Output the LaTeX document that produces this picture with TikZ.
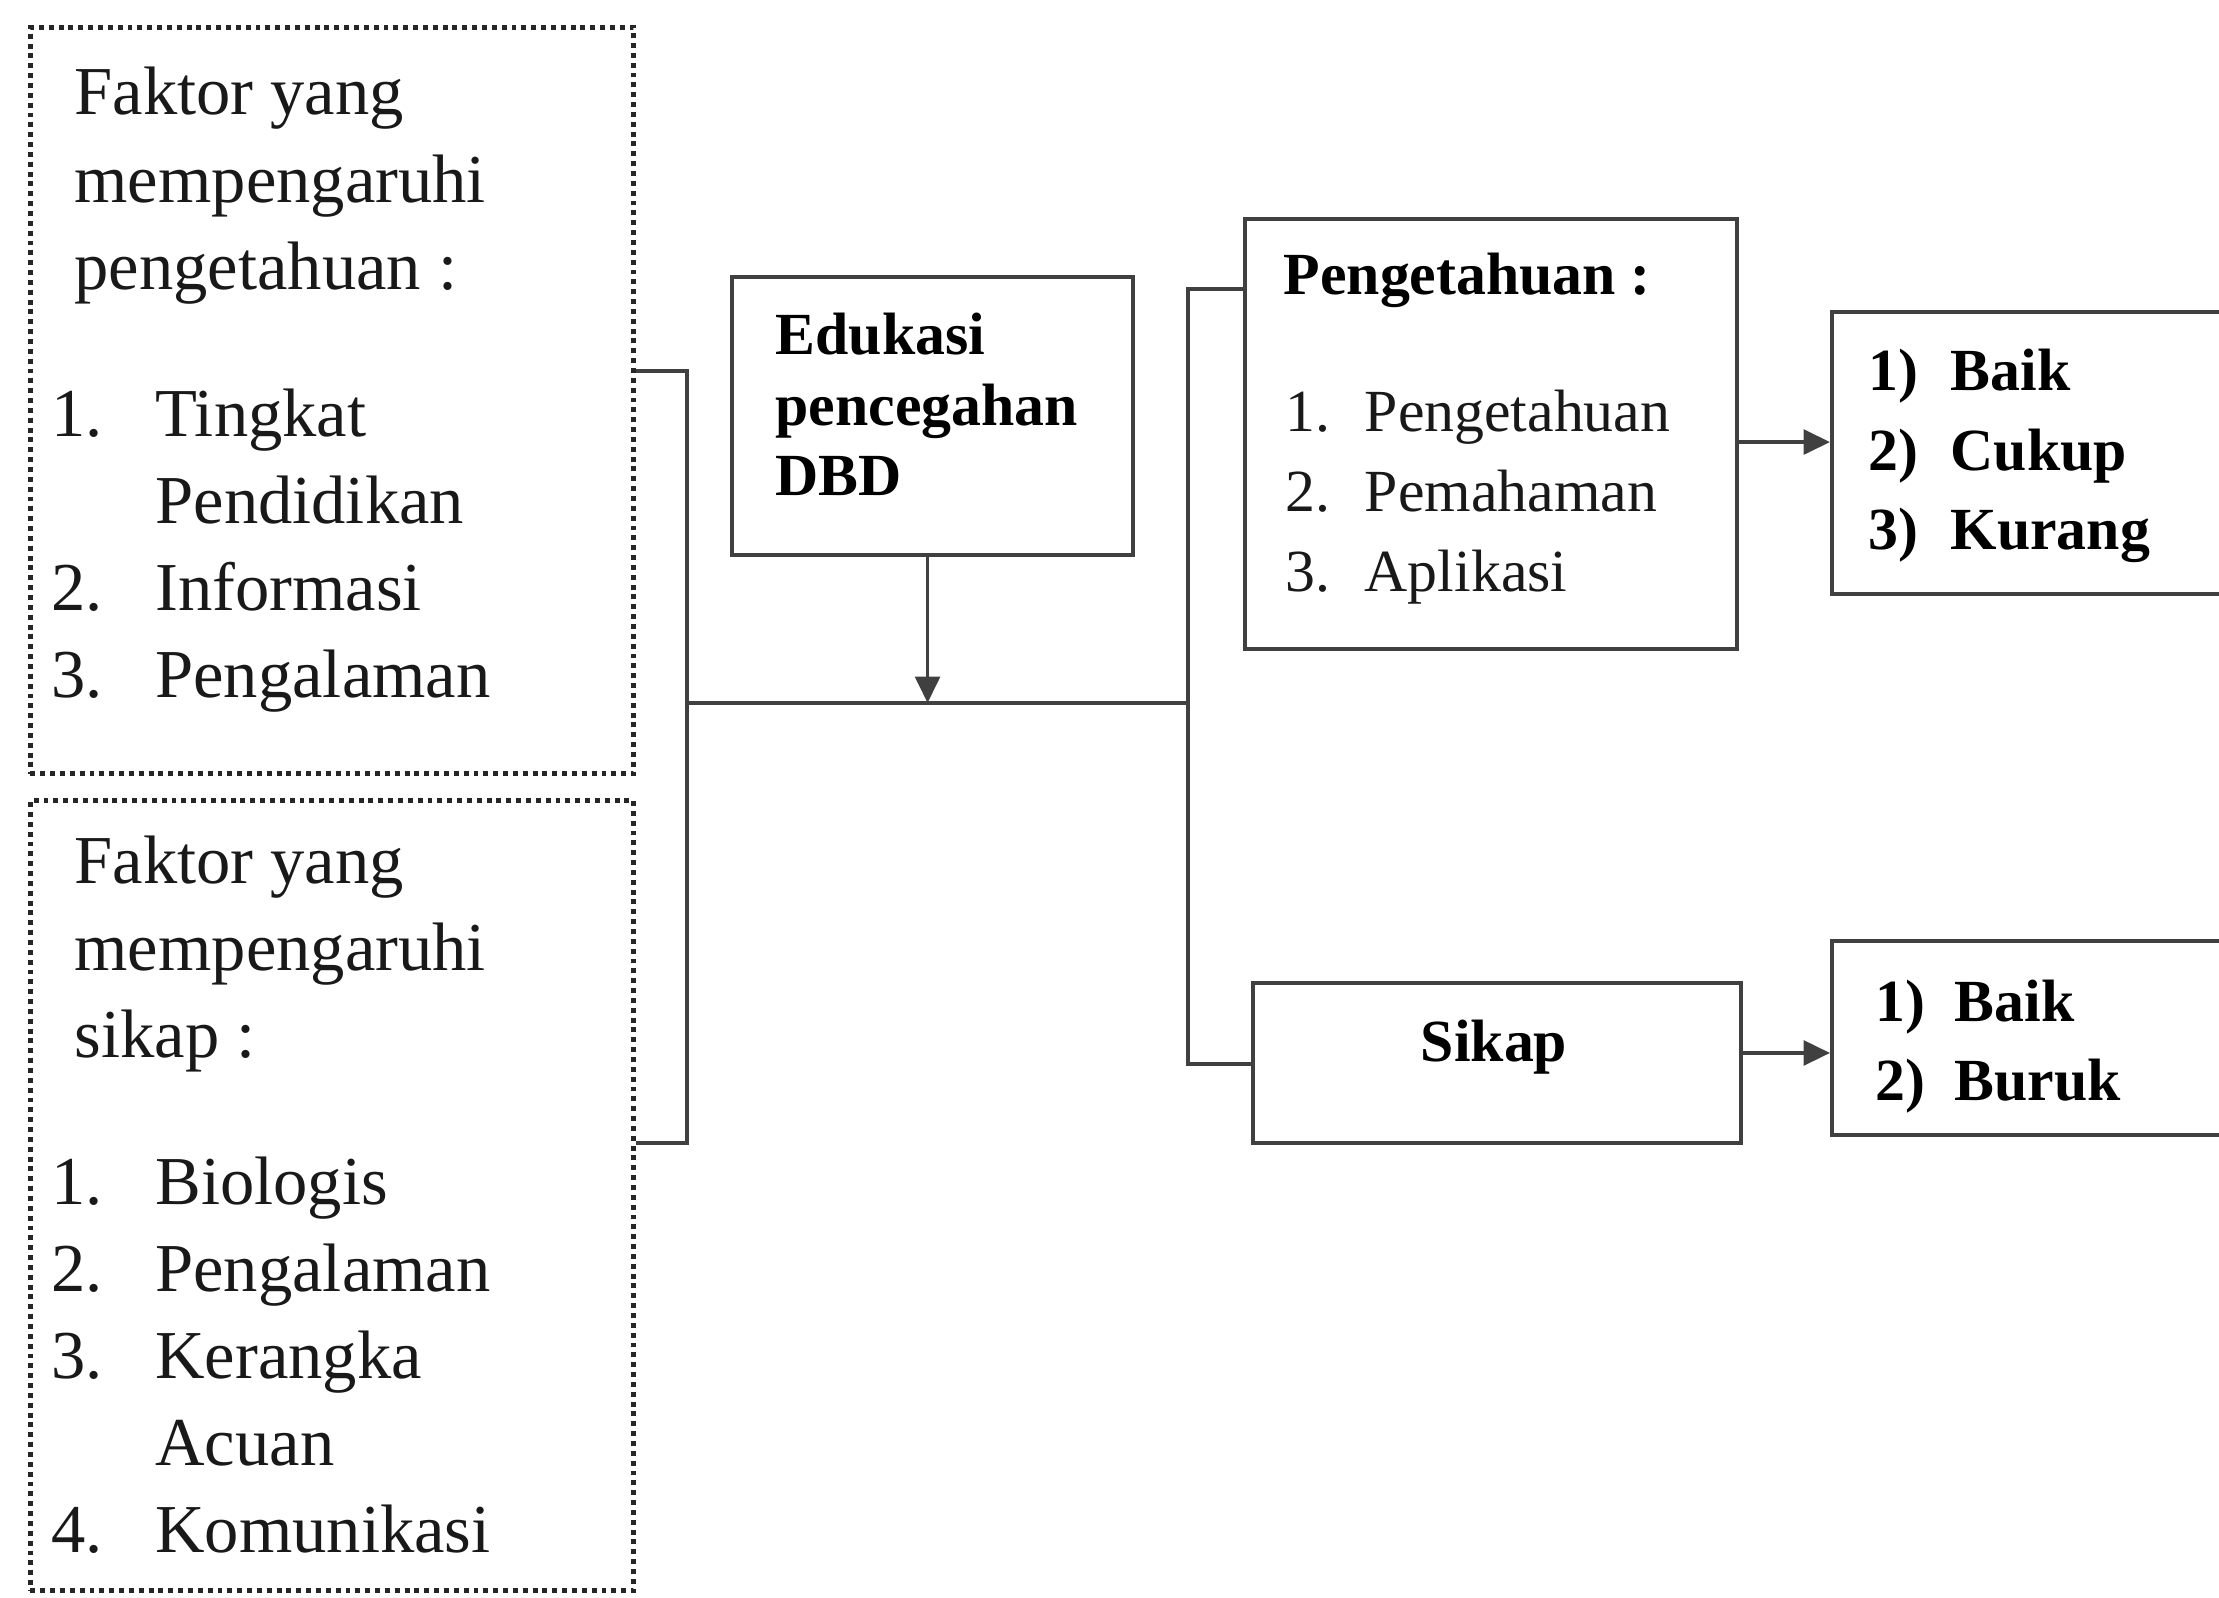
\documentclass[tikz,border=0pt]{standalone}
\usepackage{fontspec}
\setmainfont{Liberation Serif}
\usetikzlibrary{arrows.meta,positioning}

\newcommand{\hdrline}[1]{\multicolumn{2}{@{\hspace{6.5pt}}l@{}}{#1}}

\begin{document}
\begin{tikzpicture}[
		x=0.01cm, y=-0.01cm,
		>={Triangle[length=7.5pt,width=7pt]},
		line/.style   ={draw=black!75,line width=1.1pt},
		dotbox/.style ={rectangle,draw=black!85,line width=1.4pt,dash pattern=on 1.4pt off 1.4pt,anchor=north west,inner sep=0pt},
		box/.style    ={rectangle,draw=black!75,line width=1.1pt,anchor=north west,inner sep=0pt},
		factxt/.style ={anchor=base west,inner sep=0pt,text=black!90,font=\fontsize{19.5}{24.8}\selectfont},
		listtxt/.style={anchor=base west,inner sep=0pt,text=black!90,font=\fontsize{17}{22.7}\selectfont},
		boldtxt/.style={anchor=base west,inner sep=0pt,text=black,font=\fontsize{17}{20}\selectfont\bfseries},
		restxt/.style ={anchor=base west,inner sep=0pt,text=black,font=\fontsize{17}{22.5}\selectfont\bfseries}
		]

		\useasboundingbox (0,0) rectangle (2219,1598);
		\clip (0,0) rectangle (2219,1598);

		% ---- factor boxes (dotted) ----
		\node[dotbox,minimum width=6.03cm,minimum height=7.46cm] (faktorP) at (28,25) {};
		\node[dotbox,minimum width=6.03cm,minimum height=7.90cm] (faktorS) at (28,798) {};

		\node[factxt] (faktorPtxt) at (51,115) {\begin{tabular}[t]{@{}p{29.5pt}@{}l@{}}
			\hdrline{Faktor yang}\\
			\hdrline{mempengaruhi}\\
			\hdrline{pengetahuan :}\\[16.9pt]
			1. & Tingkat\\
			   & Pendidikan\\
			2. & Informasi\\
			3. & Pengalaman
		\end{tabular}};

		\node[factxt] (faktorStxt) at (51,883) {\begin{tabular}[t]{@{}p{29.5pt}@{}l@{}}
			\hdrline{Faktor yang}\\
			\hdrline{mempengaruhi}\\
			\hdrline{sikap :}\\[16.9pt]
			1. & Biologis\\
			2. & Pengalaman\\
			3. & Kerangka\\
			   & Acuan\\
			4. & Komunikasi
		\end{tabular}};

		% ---- education box ----
		\node[box,minimum width=4.01cm,minimum height=2.78cm] (edukasi) at (730,275) {};
		\node[boldtxt] (edukasitxt) at (775,355) {\begin{tabular}[t]{@{}l@{}}
			Edukasi\\pencegahan\\DBD
		\end{tabular}};

		% ---- outcome boxes ----
		\node[box,minimum width=4.92cm,minimum height=4.30cm] (pengetahuan) at (1243,217) {};
		\node[boldtxt] (pengetahuanhdr) at (1283,295) {Pengetahuan :};
		\node[listtxt] (pengetahuanlist) at (1285,432) {\begin{tabular}[t]{@{}p{22.5pt}@{}l@{}}
			1. & Pengetahuan\\
			2. & Pemahaman\\
			3. & Aplikasi
		\end{tabular}};

		\node[box,minimum width=4.88cm,minimum height=1.60cm] (sikap) at (1251,981) {};
		\node[boldtxt,anchor=base] (sikaptxt) at (1494,1061) {Sikap};

		% ---- category boxes (cut at right edge) ----
		\node[box,minimum width=5cm,minimum height=2.82cm] (hasilP) at (1830,310) {};
		\node[restxt] (hasilPtxt) at (1868,391) {\begin{tabular}[t]{@{}p{23.3pt}@{}l@{}}
			1) & Baik\\
			2) & Cukup\\
			3) & Kurang
		\end{tabular}};

		\node[box,minimum width=5cm,minimum height=1.94cm] (hasilS) at (1830,939) {};
		\node[restxt] (hasilStxt) at (1875,1021) {\begin{tabular}[t]{@{}p{22.5pt}@{}l@{}}
			1) & Baik\\
			2) & Buruk
		\end{tabular}};

		% ---- joints ----
		\coordinate (jtop) at (687,371);
		\coordinate (jbot) at (687,1143);
		\coordinate (jmid) at (687,703);
		\coordinate (stop) at (1188,289);
		\coordinate (smid) at (1188,703);
		\coordinate (sbot) at (1188,1064);
		\coordinate (eout) at ([xshift=-0.05cm]edukasi.south);
		\coordinate (pout) at ([yshift=-0.08cm]pengetahuan.east);
		\coordinate (sout) at ([yshift=0.1cm]sikap.east);

		% ---- factors bracket -> main line ----
		\draw[line] (faktorP.east |- jtop) -- (jtop) -- (jbot) -- (faktorS.east |- jbot);
		\draw[line] (jmid) -- (smid);
		\draw[line,->] (eout) -- (eout |- jmid);

		% ---- split to outcomes ----
		\draw[line] (pengetahuan.west |- stop) -- (stop) -- (sbot) -- (sikap.west |- sbot);

		% ---- outcomes -> categories ----
		\draw[line,->] (pout) -- (pout -| hasilP.west);
		\draw[line,->] (sout) -- (sout -| hasilS.west);

	\end{tikzpicture}
\end{document}
